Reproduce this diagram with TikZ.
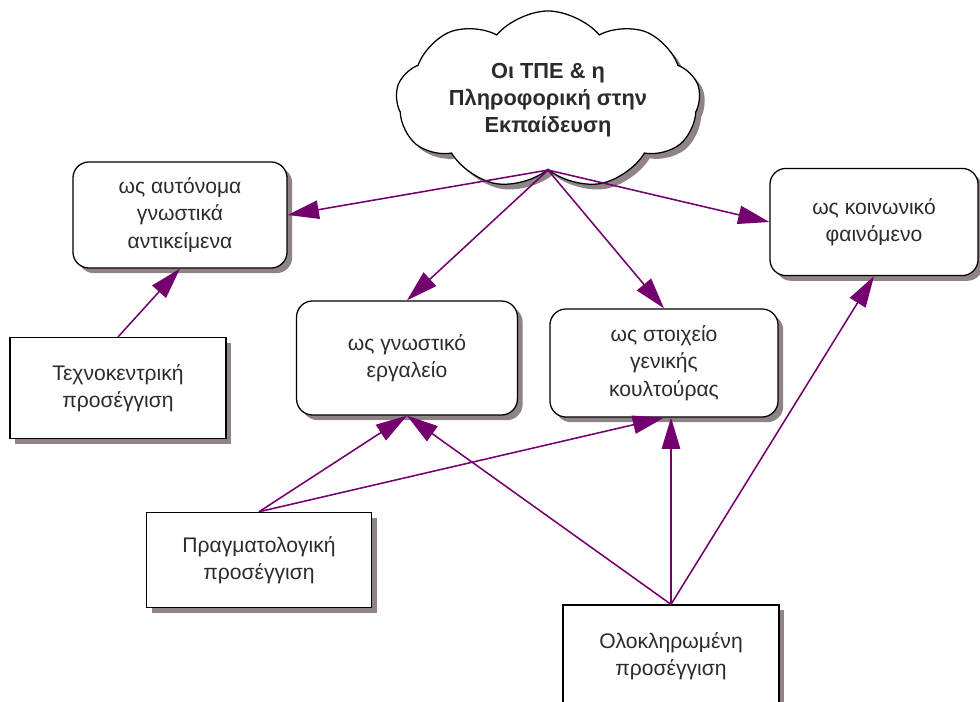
\documentclass[tikz,border=0pt]{standalone}
\usepackage{fontspec}
\setmainfont{Liberation Sans}
\usepackage{tikz}
\usetikzlibrary{arrows.meta,shapes.symbols,shadows}
\definecolor{txt}{HTML}{2B2B2B}
\definecolor{arr}{HTML}{74006F}
\definecolor{shade}{HTML}{8E8385}

\begin{document}
\begin{tikzpicture}[
  x=0.025cm, y=-0.025cm,
  >={Triangle[length=0.78cm, width=0.46cm]},
  box/.style={draw=black, line width=0.9pt, fill=white, align=center, text=txt,
    font=\fontsize{15}{19.5}\selectfont,
    drop shadow={shadow xshift=0.13cm, shadow yshift=-0.13cm, fill=shade, opacity=1}},
  round/.style={box, rounded corners=0.4cm},
  link/.style={->, draw=arr, fill=arr, line width=1.1pt},
]
\useasboundingbox (0,0) rectangle (980,702);

% top
\node[cloud, cloud puffs=9, cloud puff arc=100, aspect=2.1, minimum width=7.6cm, minimum height=3.9cm,
  draw=black, line width=0.9pt, fill=white, align=center, text=txt, font=\fontsize{15.5}{19}\selectfont\bfseries,
  drop shadow={shadow xshift=0.13cm, shadow yshift=-0.13cm, fill=shade, opacity=1}]
  (ict) at (548,100) {Οι ΤΠΕ \& η\\Πληροφορική στην\\Εκπαίδευση};

% views
\node[round, minimum width=5.35cm, minimum height=2.65cm] (auto) at (180,215) {ως αυτόνομα\\γνωστικά\\αντικείμενα};
\node[round, minimum width=5.52cm, minimum height=2.85cm] (tool) at (407,358) {ως γνωστικό\\εργαλείο};
\node[round, minimum width=5.7cm, minimum height=2.7cm] (culture) at (664,363) {ως στοιχείο\\γενικής\\κουλτούρας};
\node[round, minimum width=5.2cm, minimum height=2.68cm] (social) at (874,222) {ως κοινωνικό\\φαινόμενο};

% approaches
\node[box, minimum width=5.4cm, minimum height=2.52cm] (tech) at (118,388) {Τεχνοκεντρική\\προσέγγιση};
\node[box, minimum width=5.62cm, minimum height=2.38cm] (prag) at (259,560) {Πραγματολογική\\προσέγγιση};
\node[box, minimum width=5.4cm, minimum height=2.55cm] (integ) at (671,656) {Ολοκληρωμένη\\προσέγγιση};

\draw[link] (ict.south) -- (auto.east);
\draw[link] (ict.south) -- (tool.north);
\draw[link] (ict.south) -- (culture.north);
\draw[link] (ict.south) -- (social.west);
\draw[link] (tech.north) -- (auto.south);
\draw[link] (prag.north) -- (tool.south);
\draw[link] (prag.north) -- (culture.south);
\draw[link] (integ.north) -- (tool.south);
\draw[link] (integ.north) -- (integ.north |- culture.south);
\draw[link] (integ.north) -- (social.south);

\end{tikzpicture}
\end{document}
